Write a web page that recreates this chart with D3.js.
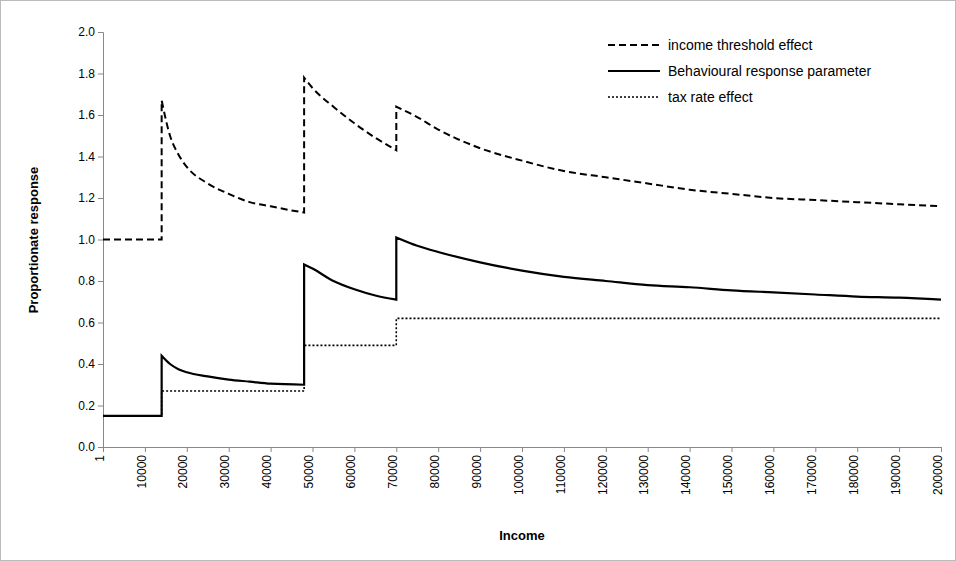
<!DOCTYPE html>
<html><head><meta charset="utf-8">
<script src="https://cdn.jsdelivr.net/npm/d3@7"></script>
<style>body{margin:0;background:#fff}text{font-family:"Liberation Sans",Arial,sans-serif}</style>
</head><body><svg id="c" width="956" height="561"></svg>
<script>
const xTicks=[1,10000,20000,30000,40000,50000,60000,70000,80000,90000,100000,110000,120000,130000,140000,150000,160000,170000,180000,190000,200000];
const yTicks=[0,0.2,0.4,0.6,0.8,1.0,1.2,1.4,1.6,1.8,2.0];
const thresholdX=[1,14000,14000,16000,18000,20000,25000,30000,35000,40000,45000,48000,48000,50000,55000,60000,65000,70000,70000,75000,80000,90000,100000,110000,120000,130000,140000,150000,160000,170000,180000,190000,200000];
const thresholdY=[1.0,1.0,1.67,1.5,1.41,1.35,1.27,1.22,1.18,1.16,1.14,1.13,1.78,1.73,1.64,1.56,1.49,1.43,1.64,1.59,1.53,1.44,1.38,1.33,1.30,1.27,1.24,1.22,1.20,1.19,1.18,1.17,1.16];
const behavX=[1,14000,14000,16000,18000,20000,25000,30000,35000,40000,48000,48000,50000,55000,60000,65000,70000,70000,75000,80000,90000,100000,110000,120000,130000,140000,150000,160000,170000,180000,190000,200000];
const behavY=[0.15,0.15,0.44,0.40,0.375,0.36,0.34,0.325,0.315,0.305,0.30,0.88,0.86,0.80,0.76,0.73,0.71,1.01,0.97,0.94,0.89,0.85,0.82,0.80,0.78,0.77,0.755,0.745,0.735,0.725,0.72,0.71];
const taxX=[1,14000,14000,48000,48000,70000,70000,200000];
const taxY=[0.15,0.15,0.27,0.27,0.49,0.49,0.62,0.62];
const legend=["income threshold effect","Behavioural response parameter","tax rate effect"];
const dashes=["7,4",null,"2,2"];

const svg=d3.select("#c");
svg.append("rect").attr("x",0.5).attr("y",0.5).attr("width",955).attr("height",560).attr("fill","none").attr("stroke","#bbb");
const x=d3.scaleLinear().domain([1,200000]).range([103,941]);
const y=d3.scaleLinear().domain([0,2]).range([447,32]);
const ga=svg.append("g").attr("transform","translate(0,447)").call(d3.axisBottom(x).tickValues(xTicks).tickSize(5).tickFormat(d=>d));
ga.selectAll("text").attr("transform","rotate(-90)").attr("x",-8).attr("y",-4).attr("dy","0.35em").style("text-anchor","end");
const gy=svg.append("g").attr("transform","translate(103,0)").call(d3.axisLeft(y).tickValues(yTicks).tickSize(5).tickFormat(d3.format(".1f")));
[ga,gy].forEach(g=>{g.selectAll("text").attr("font-size",12).attr("fill","#000").attr("font-family","Liberation Sans, Arial");g.selectAll("line,path").attr("stroke","#888");});
const seg=d3.line().x(d=>x(d[0])).y(d=>y(d[1])).curve(d3.curveMonotoneX);
function pathFor(xs,ys){
 let segs=[[]];
 xs.forEach((v,j)=>{ if(j>0&&v===xs[j-1]) segs.push([]); segs[segs.length-1].push([v,ys[j]]); });
 return segs.map((s,k)=>{let d=seg(s); return k===0?d:"L"+d.slice(1);}).join("");
}
const series=[[thresholdX,thresholdY],[behavX,behavY],[taxX,taxY]];
[2,0,1].forEach(i=>{
 const [xs,ys]=series[i];
 svg.append("path").attr("d",pathFor(xs,ys)).attr("fill","none").attr("stroke","#000")
  .attr("stroke-width",i==1?2.2:(i==0?2:1.6)).attr("stroke-dasharray",dashes[i]);
});
legend.forEach((t,i)=>{
 const ly=45+i*26;
 svg.append("line").attr("x1",608).attr("x2",660).attr("y1",ly).attr("y2",ly).attr("stroke","#000").attr("stroke-width",i==1?2.2:(i==0?2:1.6)).attr("stroke-dasharray",dashes[i]);
 svg.append("text").attr("x",668).attr("y",ly+5).attr("font-size",14).text(t);
});
svg.append("text").attr("x",522).attr("y",540).attr("text-anchor","middle").attr("font-size",13).attr("font-weight","bold").text("Income");
svg.append("text").attr("transform","translate(38,240) rotate(-90)").attr("text-anchor","middle").attr("font-size",13).attr("font-weight","bold").text("Proportionate response");
</script></body></html>
